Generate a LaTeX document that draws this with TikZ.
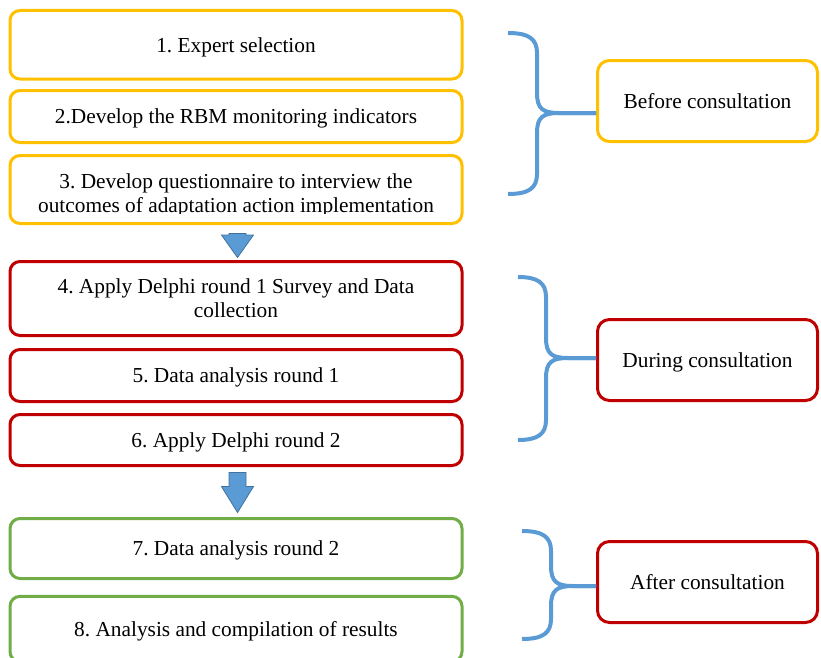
\documentclass[tikz,border=0pt]{standalone}
\usepackage{fontspec}
\setmainfont{Liberation Serif}
\usetikzlibrary{calc}
\frenchspacing

\definecolor{stageyellow}{HTML}{FFC000}
\definecolor{stagered}{HTML}{C00000}
\definecolor{stagegreen}{HTML}{70AD47}
\definecolor{braceblue}{HTML}{5B9BD5}
\definecolor{arrowedge}{HTML}{41719C}

% curly bracket from the left column to a phase box
\newcommand{\phasebrace}[6]{%
  \coordinate (#6tip) at (#2+22,#4);
  \draw[bracestyle] (#6.west |- #6tip) -- (#6tip) .. controls (#2+6,#4) and (#2,#4-4) .. (#2,#4-20)
    -- (#2,#3+20) .. controls (#2,#3+6) and (#2-8,#3) .. (#1,#3);
  \draw[bracestyle] (#6.west |- #6tip) -- (#6tip) .. controls (#2+6,#4) and (#2,#4+4) .. (#2,#4+20)
    -- (#2,#5-20) .. controls (#2,#5-6) and (#2-8,#5) .. (#1,#5);
}
% block arrow between two stages
\newcommand{\downblock}[3]{%
  \draw[stagearrow] ($(#1)+(-8.5,0)$) -- ($(#1)+(8.5,0)$) -- ($(#1)+(8.5,#3)$) -- ($(#1)+(16,#3)$)
    -- (#2) -- ($(#1)+(-16,#3)$) -- ($(#1)+(-8.5,#3)$) -- cycle;
}

\begin{document}
\begin{tikzpicture}[x=0.75pt, y=-0.75pt, font=\fontsize{16}{18}\selectfont,
    stepbox/.style={draw, line width=2.25pt, rounded corners=7.5pt, fill=white,
      minimum width=339pt, inner sep=0pt, text depth=0pt, align=center},
    phasebox/.style={draw, line width=2.25pt, rounded corners=9pt, fill=white,
      minimum width=165pt, minimum height=60.75pt, inner sep=0pt, text depth=0pt, align=center},
    bracestyle/.style={braceblue, line width=3pt},
    stagearrow/.style={fill=braceblue, draw=arrowedge, line width=0.6pt}]
  \useasboundingbox (0,0) rectangle (821,657);

  % before consultation
  \node[stepbox, draw=stageyellow, minimum height=51.4pt] (expert) at (236,44.75) {1. Expert selection};
  \node[stepbox, draw=stageyellow, minimum height=39pt] (indicators) at (236,116.5) {2.Develop the RBM monitoring indicators};
  \node[stepbox, draw=stageyellow, minimum height=51pt] (questionnaire) at (236,189.5) {};
  \begin{scope}
    \clip (10,156) rectangle (462,213);
    \node[align=center, inner sep=0pt] (questionnairetext) at (236,195)
      {3. Develop questionnaire to interview the\\outcomes of adaptation action implementation};
  \end{scope}

  % during consultation
  \node[stepbox, draw=stagered, minimum height=55.5pt] (round1) at (236,298.5) {4. Apply Delphi round 1 Survey and Data\\collection};
  \node[stepbox, draw=stagered, minimum height=39pt] (analysis1) at (236,375.5) {5. Data analysis round 1};
  \node[stepbox, draw=stagered, minimum height=38.25pt] (round2) at (236,440) {6. Apply Delphi round 2};

  % after consultation
  \node[stepbox, draw=stagegreen, minimum height=45pt] (analysis2) at (236,548.5) {7. Data analysis round 2};
  \node[stepbox, draw=stagegreen, minimum height=49pt] (results) at (236,629) {8. Analysis and compilation of results};

  % phases
  \node[phasebox, draw=stageyellow] (before) at (707.5,101) {Before consultation};
  \node[phasebox, draw=stagered] (during) at (707.5,360) {During consultation};
  \node[phasebox, draw=stagered] (after) at (707.5,582) {After consultation};

  \phasebrace{508}{537}{33}{113}{194}{before}
  \phasebrace{518}{546}{277}{358}{440}{during}
  \phasebrace{522}{551}{531}{586}{639}{after}

  % arrows between stages
  \coordinate (arrowtop1) at ($(questionnaire.south)+(1.5,8.5)$);
  \coordinate (arrowtip1) at ($(round1.north)+(1.5,-2.5)$);
  \downblock{arrowtop1}{arrowtip1}{1.5}
  \coordinate (arrowtop2) at ($(round2.south)+(1.5,5.5)$);
  \coordinate (arrowtip2) at ($(analysis2.north)+(1.5,-4.5)$);
  \downblock{arrowtop2}{arrowtip2}{14}
\end{tikzpicture}
\end{document}
